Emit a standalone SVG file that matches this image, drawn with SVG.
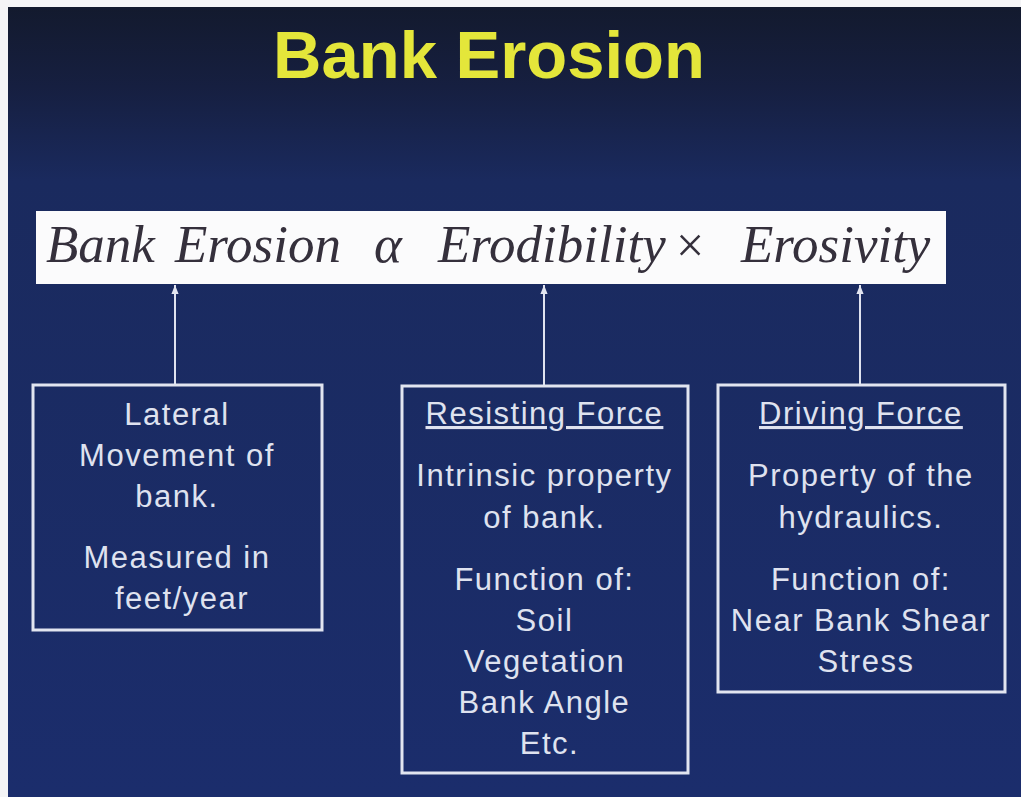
<svg xmlns="http://www.w3.org/2000/svg" width="1021" height="797" viewBox="0 0 1021 797">
  <defs>
    <linearGradient id="bg" x1="0" y1="0" x2="0" y2="1">
      <stop offset="0" stop-color="#131a2e"/>
      <stop offset="0.1" stop-color="#161f40"/>
      <stop offset="0.22" stop-color="#1a2a5e"/>
      <stop offset="1" stop-color="#1b2d6c"/>
    </linearGradient>
    <marker id="arrow" viewBox="0 0 10 10" refX="10" refY="5" markerWidth="9" markerHeight="9" markerUnits="userSpaceOnUse" orient="auto">
      <path d="M0,1 L10,5 L0,9 Z" fill="#e2e5f0"/>
    </marker>
    <style>
      .title { font-family: "Liberation Sans", Arial, sans-serif; font-weight: bold; font-size: 67px; fill: #e4e63a; text-anchor: middle; }
      .eq { font-family: "Liberation Serif", "Times New Roman", serif; font-style: italic; font-size: 53px; fill: #35303c; }
      .box { fill: none; stroke: #e2e5f0; stroke-width: 3; }
      .label { font-family: "Liberation Sans", Arial, sans-serif; font-size: 31px; letter-spacing: 1.5px; fill: #dfe2ef; text-anchor: middle; }
      .head { text-decoration: underline; }
      .link { stroke: #dfe2ef; stroke-width: 2; fill: none; }
    </style>
  </defs>

  <!-- slide frame -->
  <rect x="0" y="0" width="1021" height="797" fill="#f4f4f6"/>
  <rect x="8" y="7" width="1013" height="790" fill="url(#bg)"/>

  <text class="title" x="489" y="78">Bank Erosion</text>

  <!-- equation banner -->
  <g id="equation">
    <rect x="36" y="211" width="910" height="73" fill="#fbfbfc"/>
    <text class="eq" y="262">
      <tspan x="46">Bank</tspan>
      <tspan x="175">Erosion</tspan>
      <tspan x="374">α</tspan>
      <tspan x="438">Erodibility</tspan>
      <tspan x="676" font-style="normal" font-size="50">×</tspan>
      <tspan x="741">Erosivity</tspan>
    </text>
  </g>

  <!-- connectors from boxes up to the equation terms -->
  <g id="connectors">
    <line class="link" x1="175" y1="384" x2="175" y2="285" marker-end="url(#arrow)"/>
    <line class="link" x1="544" y1="385" x2="544" y2="285" marker-end="url(#arrow)"/>
    <line class="link" x1="860" y1="384" x2="860" y2="285" marker-end="url(#arrow)"/>
  </g>

  <g id="lateral-movement">
    <rect class="box" x="33" y="385" width="289" height="245"/>
    <text class="label">
      <tspan x="182" y="425">Lateral</tspan>
      <tspan x="182" y="466">Movement of</tspan>
      <tspan x="182" y="507">bank.</tspan>
      <tspan x="182" y="568">Measured in</tspan>
      <tspan x="182" y="609">feet/year</tspan>
    </text>
  </g>

  <g id="resisting-force">
    <rect class="box" x="402" y="386" width="286" height="387"/>
    <text class="label">
      <tspan class="head" x="549.5" y="424">Resisting Force</tspan>
      <tspan x="549.5" y="486">Intrinsic property</tspan>
      <tspan x="549.5" y="528">of bank.</tspan>
      <tspan x="549.5" y="590">Function of:</tspan>
      <tspan x="549.5" y="631">Soil</tspan>
      <tspan x="549.5" y="672">Vegetation</tspan>
      <tspan x="549.5" y="713">Bank Angle</tspan>
      <tspan x="549.5" y="754">Etc.</tspan>
    </text>
  </g>

  <g id="driving-force">
    <rect class="box" x="718" y="385" width="287" height="307"/>
    <text class="label">
      <tspan class="head" x="866" y="424">Driving Force</tspan>
      <tspan x="866" y="486">Property of the</tspan>
      <tspan x="866" y="528">hydraulics.</tspan>
      <tspan x="866" y="590">Function of:</tspan>
      <tspan x="866" y="631">Near Bank Shear</tspan>
      <tspan x="866" y="672">Stress</tspan>
    </text>
  </g>
</svg>
